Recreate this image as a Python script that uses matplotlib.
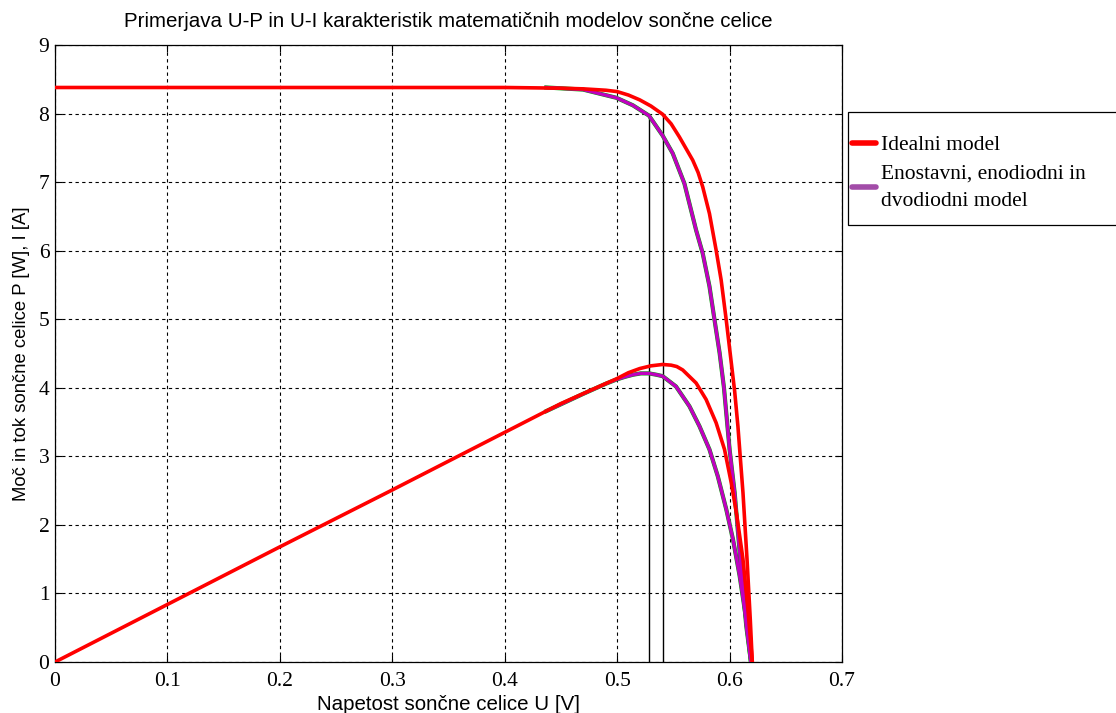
import numpy as np
import matplotlib.pyplot as plt
from matplotlib.lines import Line2D
from matplotlib.patches import Rectangle


# ----------------------------------------------------------------------------------------------------------------------
# data
# ----------------------------------------------------------------------------------------------------------------------

# idealni model, U-I
u_id_i = [0.0, 0.2, 0.4, 0.45, 0.47, 0.49, 0.50, 0.51, 0.52, 0.53, 0.5404, 0.548, 0.5553, 0.5672, 0.572,
          0.5761, 0.5821, 0.5880, 0.5925, 0.5970, 0.6014, 0.6045, 0.6074, 0.6119, 0.6155, 0.6184, 0.6202]
i_id = [8.38, 8.38, 8.38, 8.37, 8.36, 8.34, 8.32, 8.27, 8.20, 8.11, 7.99, 7.85, 7.66, 7.32, 7.14,
        6.93, 6.54, 6.01, 5.57, 4.99, 4.38, 3.95, 3.44, 2.47, 1.50, 0.62, 0.0]

# idealni model, U-P
u_id_p = [0.0, 0.1, 0.2, 0.3, 0.4, 0.45, 0.48, 0.4993, 0.51, 0.52, 0.53, 0.5404, 0.548, 0.553, 0.5583,
          0.5702, 0.5791, 0.5880, 0.5955, 0.6014, 0.6065, 0.6119, 0.6163, 0.6202]
p_id = [0.0, 0.84, 1.68, 2.51, 3.35, 3.77, 3.99, 4.13, 4.22, 4.28, 4.32, 4.34, 4.33, 4.31, 4.26,
        4.07, 3.83, 3.49, 3.10, 2.62, 2.13, 1.50, 0.77, 0.0]

# enostavni, enodiodni in dvodiodni model, U-I
u_mo_i = [0.437, 0.4696, 0.4993, 0.514, 0.5283, 0.5404, 0.5494, 0.5598, 0.5702, 0.5761,
          0.5821, 0.5866, 0.5911, 0.5950, 0.6000, 0.6045, 0.6095, 0.6148, 0.6190]
i_mo = [8.38, 8.35, 8.23, 8.12, 7.97, 7.68, 7.42, 6.98, 6.30, 5.96,
        5.48, 4.99, 4.51, 4.00, 3.10, 2.47, 1.50, 0.53, 0.0]

# enostavni, enodiodni in dvodiodni model, U-P
u_mo_p = [0.437, 0.4696, 0.49, 0.4993, 0.507, 0.514, 0.521, 0.5283, 0.535, 0.5404, 0.5523,
          0.5643, 0.5732, 0.5821, 0.5895, 0.5970, 0.6030, 0.6089, 0.6148, 0.6190]
p_mo = [3.66, 3.91, 4.06, 4.12, 4.16, 4.19, 4.21, 4.21, 4.19, 4.17, 4.02,
        3.73, 3.44, 3.10, 2.71, 2.23, 1.79, 1.26, 0.62, 0.0]

# tocke najvecje moci
u_mpp = [0.5283, 0.5404]
i_mpp = [7.97, 7.99]

x_ticks = [0, 0.1, 0.2, 0.3, 0.4, 0.5, 0.6, 0.7]
x_tick_labels = ["0", "0.1", "0.2", "0.3", "0.4", "0.5", "0.6", "0.7"]
y_ticks = list(range(0, 10))

title = "Primerjava U-P in U-I karakteristik matematičnih modelov sončne celice"
x_label = "Napetost sončne celice U [V]"
y_label = "Moč in tok sončne celice P [W], I [A]"
legend_labels = ["Idealni model", "Enostavni, enodiodni in\ndvodiodni model"]

# ----------------------------------------------------------------------------------------------------------------------
# plot
# ----------------------------------------------------------------------------------------------------------------------

if __name__ == '__main__':
    red = "#ff0000"
    purple = "#c000c0"
    W, H = 1116, 713

    fig = plt.figure(figsize=(W / 100, H / 100), dpi=100)
    ax = fig.add_axes([0.0493, 0.0715, 0.7052, 0.8654])

    for u, top in zip(u_mpp, i_mpp):
        ax.plot([u, u], [0, top], color="black", lw=1.0, zorder=2)

    # three models overlap - green under the magenta one
    ax.plot(u_mo_i, i_mo, color="#00a000", lw=3.0, zorder=3)
    ax.plot(u_mo_p, p_mo, color="#00a000", lw=3.0, zorder=3)
    ax.plot(u_mo_i, i_mo, color=purple, lw=2.4, zorder=4)
    ax.plot(u_mo_p, p_mo, color=purple, lw=2.4, zorder=4)

    ax.plot(u_id_i, i_id, color=red, lw=2.6, zorder=5)
    ax.plot(u_id_p, p_id, color=red, lw=2.6, zorder=5)

    ax.set_xlim(0, 0.7)
    ax.set_ylim(0, 9)
    ax.set_xticks(x_ticks)
    ax.set_xticklabels(x_tick_labels)
    ax.set_yticks(y_ticks)
    ax.grid(True, color="black", linestyle=(0, (3, 3)), lw=0.8)
    ax.tick_params(direction="in", top=True, right=True, length=5, width=0.8, labelsize=15.5)
    ax.tick_params(axis="x", pad=7)
    ax.tick_params(axis="y", pad=4)
    for lab in ax.get_xticklabels() + ax.get_yticklabels():
        lab.set_fontfamily("Liberation Serif")
    for s in ax.spines.values():
        s.set_linewidth(0.9)

    ax.set_title(title, family="Liberation Sans", fontsize=14.8, pad=13)
    ax.set_xlabel(x_label, family="Liberation Sans", fontsize=14.8, labelpad=3)
    ax.set_ylabel(y_label, family="Liberation Sans", fontsize=13.3, labelpad=6)

    # legend frame drawn by hand, goes past the right edge
    fig.patches.append(Rectangle((848 / W, 1 - 225 / H), 300 / W, 113 / H, transform=fig.transFigure,
                                 facecolor="white", edgecolor="black", lw=0.9, zorder=1))

    handles = [Line2D([], [], color=red, lw=4, solid_capstyle="round"),
               Line2D([], [], color="#a24ca8", lw=4, solid_capstyle="round")]
    leg = fig.legend(handles, legend_labels, loc="upper left", bbox_to_anchor=(852 / W, 1 - 135 / H),
                     prop={"family": "Liberation Serif", "size": 15.5}, frameon=False,
                     handlelength=1.1, handletextpad=0.25, borderpad=0, labelspacing=0.45,
                     borderaxespad=0)
    leg.get_texts()[1].set_linespacing(1.6)
    leg.set_zorder(2)

    fig.savefig("out.png", dpi=100)
